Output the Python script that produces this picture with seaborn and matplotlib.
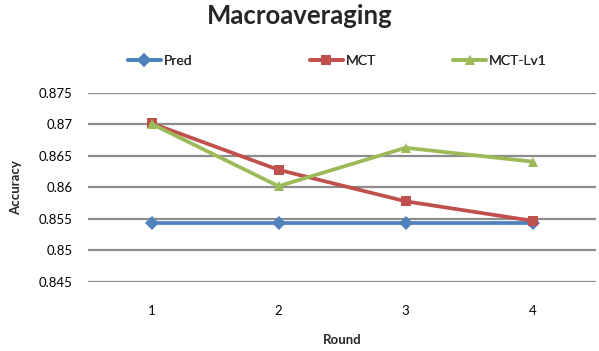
import matplotlib
matplotlib.use("Agg")
import matplotlib.pyplot as plt
import matplotlib.ticker as mticker
import pandas as pd
import seaborn as sns

rounds = [1, 2, 3, 4]
pred = [0.8543, 0.8543, 0.8543, 0.8543]
mct = [0.8702, 0.8628, 0.8578, 0.8547]
mct_lv1 = [0.8701, 0.8602, 0.8663, 0.8641]
series_names = ["Pred", "MCT", "MCT-Lv1"]
y_ticks = [0.845, 0.85, 0.855, 0.86, 0.865, 0.87, 0.875]

colors = {"Pred": "#4F81BD", "MCT": "#C0504D", "MCT-Lv1": "#9BBB59"}
markers = {"Pred": "D", "MCT": "s", "MCT-Lv1": "^"}

df = pd.DataFrame({
    "Round": rounds * 3,
    "Accuracy": pred + mct + mct_lv1,
    "Series": [n for n in series_names for _ in rounds],
})

sns.set_theme(style="white")
plt.rcParams["font.family"] = ["Lato", "DejaVu Sans"]

fig = plt.figure(figsize=(5.99, 3.51), dpi=100)
ax = fig.add_axes([0.147, 0.197, 0.848, 0.538])

sns.lineplot(
    data=df, x="Round", y="Accuracy", hue="Series", style="Series",
    hue_order=series_names, style_order=series_names,
    palette=colors, markers=markers, dashes=False,
    linewidth=2.7, markersize=7.5, markeredgewidth=0,
    ax=ax, legend=False, zorder=3,
)

ax.set_xlim(0.5, 4.5)
ax.set_ylim(0.845, 0.875)
ax.set_xticks(rounds)
ax.set_yticks(y_ticks)
ax.yaxis.set_major_formatter(mticker.FuncFormatter(lambda v, p: f"{v:.3f}".rstrip("0")))
ax.grid(axis="y", color="#8C8C8C", linewidth=1.6)
ax.grid(axis="x", visible=False)
ax.set_axisbelow(True)
for s in ax.spines.values():
    s.set_visible(False)
ax.tick_params(axis="both", length=0, labelsize=9.5, colors="#000000")
ax.tick_params(axis="x", pad=17)
ax.tick_params(axis="y", pad=11)

ax.set_xlabel("Round", fontsize=9.5, fontweight="bold", labelpad=12)
ax.set_ylabel("Accuracy", fontsize=9.5, fontweight="bold", labelpad=12)

fig.suptitle("Macroaveraging", x=0.5, y=0.99, fontsize=18.5, fontweight="bold")

# one legend entry per series, spread across the top
lines = ax.get_lines()
legend_x = [0.213, 0.517, 0.756]
for line, name, lx in zip(lines, series_names, legend_x):
    leg = fig.legend(
        [line], [name], loc="center left", bbox_to_anchor=(lx, 0.826),
        frameon=False, fontsize=10, handlelength=2.4, handletextpad=0.2,
        borderaxespad=0, borderpad=0,
    )
    fig.add_artist(leg)

fig.savefig("out.png", dpi=100)
